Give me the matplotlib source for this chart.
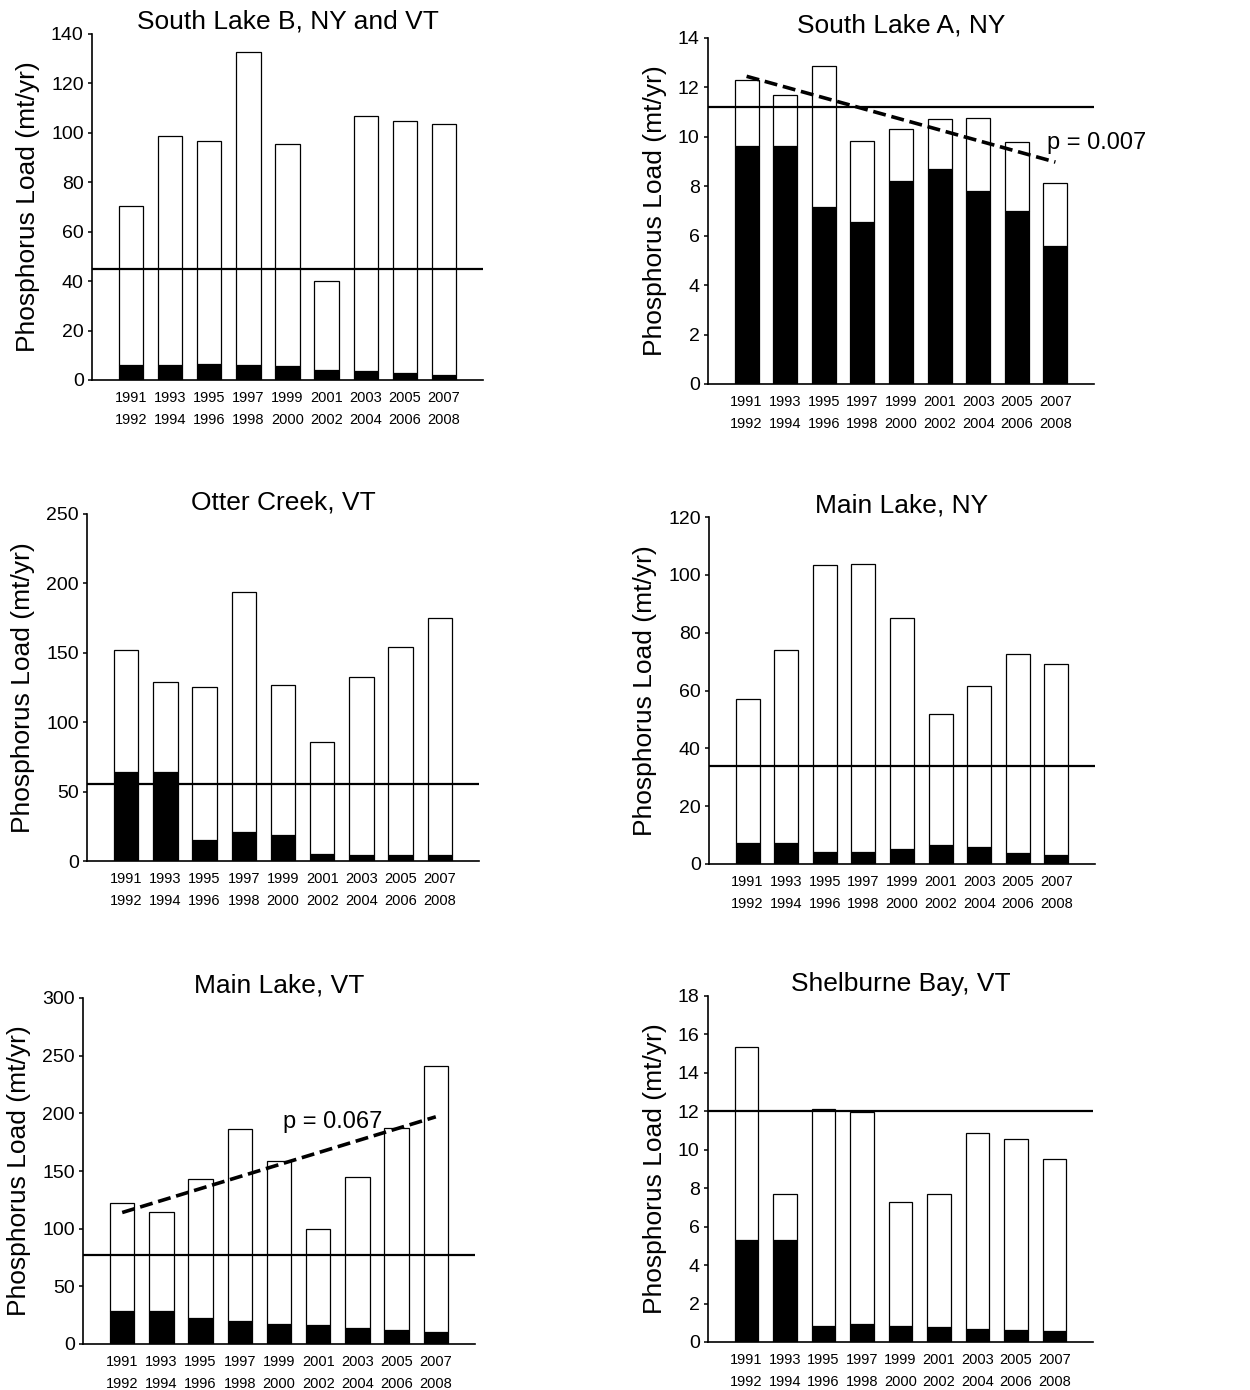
import matplotlib
matplotlib.use('Agg')
from matplotlib import pyplot as plt
import numpy as np

plt.rcParams['font.family'] = ['Liberation Sans', 'DejaVu Sans']

periods = ['1991\n1992', '1993\n1994', '1995\n1996', '1997\n1998', '1999\n2000',
           '2001\n2002', '2003\n2004', '2005\n2006', '2007\n2008']

titles = ['South Lake B, NY and VT', 'South Lake A, NY', 'Otter Creek, VT',
          'Main Lake, NY', 'Main Lake, VT', 'Shelburne Bay, VT']

# total load per period (white bar top)
total_slb = [70.5, 98.7, 96.8, 132.9, 95.6, 40.2, 106.8, 104.9, 103.6]
total_sla = [12.29, 11.68, 12.87, 9.82, 10.32, 10.72, 10.75, 9.79, 8.13]
total_otter = [152.2, 128.8, 125.7, 194.0, 126.7, 85.6, 132.5, 154.3, 175.2]
total_mlny = [57.2, 74.0, 103.5, 103.7, 85.0, 51.8, 61.7, 72.7, 69.2]
total_mlvt = [122.0, 114.8, 143.0, 186.6, 158.4, 100.1, 145.1, 187.5, 240.8]
total_shel = [15.35, 7.68, 12.11, 11.94, 7.27, 7.68, 10.85, 10.54, 9.50]

# black (point source) portion
point_slb = [6.1, 6.1, 6.3, 5.9, 5.5, 4.0, 3.6, 3.0, 1.9]
point_sla = [9.62, 9.62, 7.16, 6.54, 8.20, 8.71, 7.80, 7.00, 5.60]
point_otter = [64.4, 64.4, 15.4, 20.9, 18.75, 5.0, 4.3, 4.6, 4.3]
point_mlny = [7.3, 7.3, 4.0, 4.3, 5.1, 6.5, 5.8, 3.7, 3.0]
point_mlvt = [28.3, 28.3, 22.2, 20.2, 17.6, 16.2, 13.8, 12.4, 10.1]
point_shel = [5.31, 5.31, 0.85, 0.93, 0.85, 0.76, 0.66, 0.64, 0.59]

# target load lines
targets = [45.0, 11.2, 55.8, 33.9, 77.0, 12.0]

# y axis ranges
ymax = [140, 14, 250, 120, 300, 18]
ystep = [20, 2, 50, 20, 50, 2]

# trend lines (first and last period)
trend_sla = [12.45, 8.98]
trend_mlvt = [114.0, 197.0]

totals = [total_slb, total_sla, total_otter, total_mlny, total_mlvt, total_shel]
points = [point_slb, point_sla, point_otter, point_mlny, point_mlvt, point_shel]

fig = plt.figure(figsize=(12.5, 13.9), dpi=100)

# axes boxes in pixels: left, right, top, bottom
boxes = [(92, 483, 34, 380), (708, 1094, 38, 384),
         (87, 479, 514, 861), (709, 1095, 517, 864),
         (83, 475, 998, 1344), (708, 1093, 996, 1342)]

x = np.arange(len(periods))
W, H = 1250.0, 1390.0

axes = []
for i in range(6):
    l, r, t, b = boxes[i]
    ax = fig.add_axes([l / W, (H - b) / H, (r - l) / W, (b - t) / H])
    axes.append(ax)
    tot = np.array(totals[i])
    pt = np.array(points[i])
    ax.bar(x, pt, width=0.62, color='black', edgecolor='black', linewidth=0.9, zorder=2)
    ax.bar(x, tot - pt, bottom=pt, width=0.62, color='white', edgecolor='black',
           linewidth=0.9, zorder=2)
    ax.axhline(targets[i], color='black', linewidth=1.6, zorder=3)
    ax.set_xlim(-1, 9)
    ax.set_ylim(0, ymax[i])
    ax.set_yticks(np.arange(0, ymax[i] + 0.001, ystep[i]))
    ax.set_xticks(x)
    ax.set_xticklabels(periods, fontsize=10.5, linespacing=1.7)
    ax.tick_params(axis='x', length=0, pad=8)
    ax.tick_params(axis='y', length=3, width=1.1, direction='out', labelsize=14, pad=3)
    for s in ['top', 'right']:
        ax.spines[s].set_visible(False)
    for s in ['left', 'bottom']:
        ax.spines[s].set_linewidth(1.2)
    ax.set_title(titles[i], fontsize=19, pad=3)
    ax.set_ylabel('Phosphorus Load (mt/yr)', fontsize=19, labelpad=8)

# trend lines
axes[1].plot([x[0], x[-1]], trend_sla, color='black', linewidth=2.6,
             dashes=(3.6, 1.6), zorder=4)
axes[1].text(7.79, 9.75, 'p = 0.007', fontsize=17, ha='left', va='center', clip_on=False)
axes[4].plot([x[0], x[-1]], trend_mlvt, color='black', linewidth=2.6,
             dashes=(3.6, 1.6), zorder=4)
axes[4].text(4.09, 192.5, 'p = 0.067', fontsize=17, ha='left', va='center')

fig.savefig('out.png', dpi=100)
plt.close(fig)
